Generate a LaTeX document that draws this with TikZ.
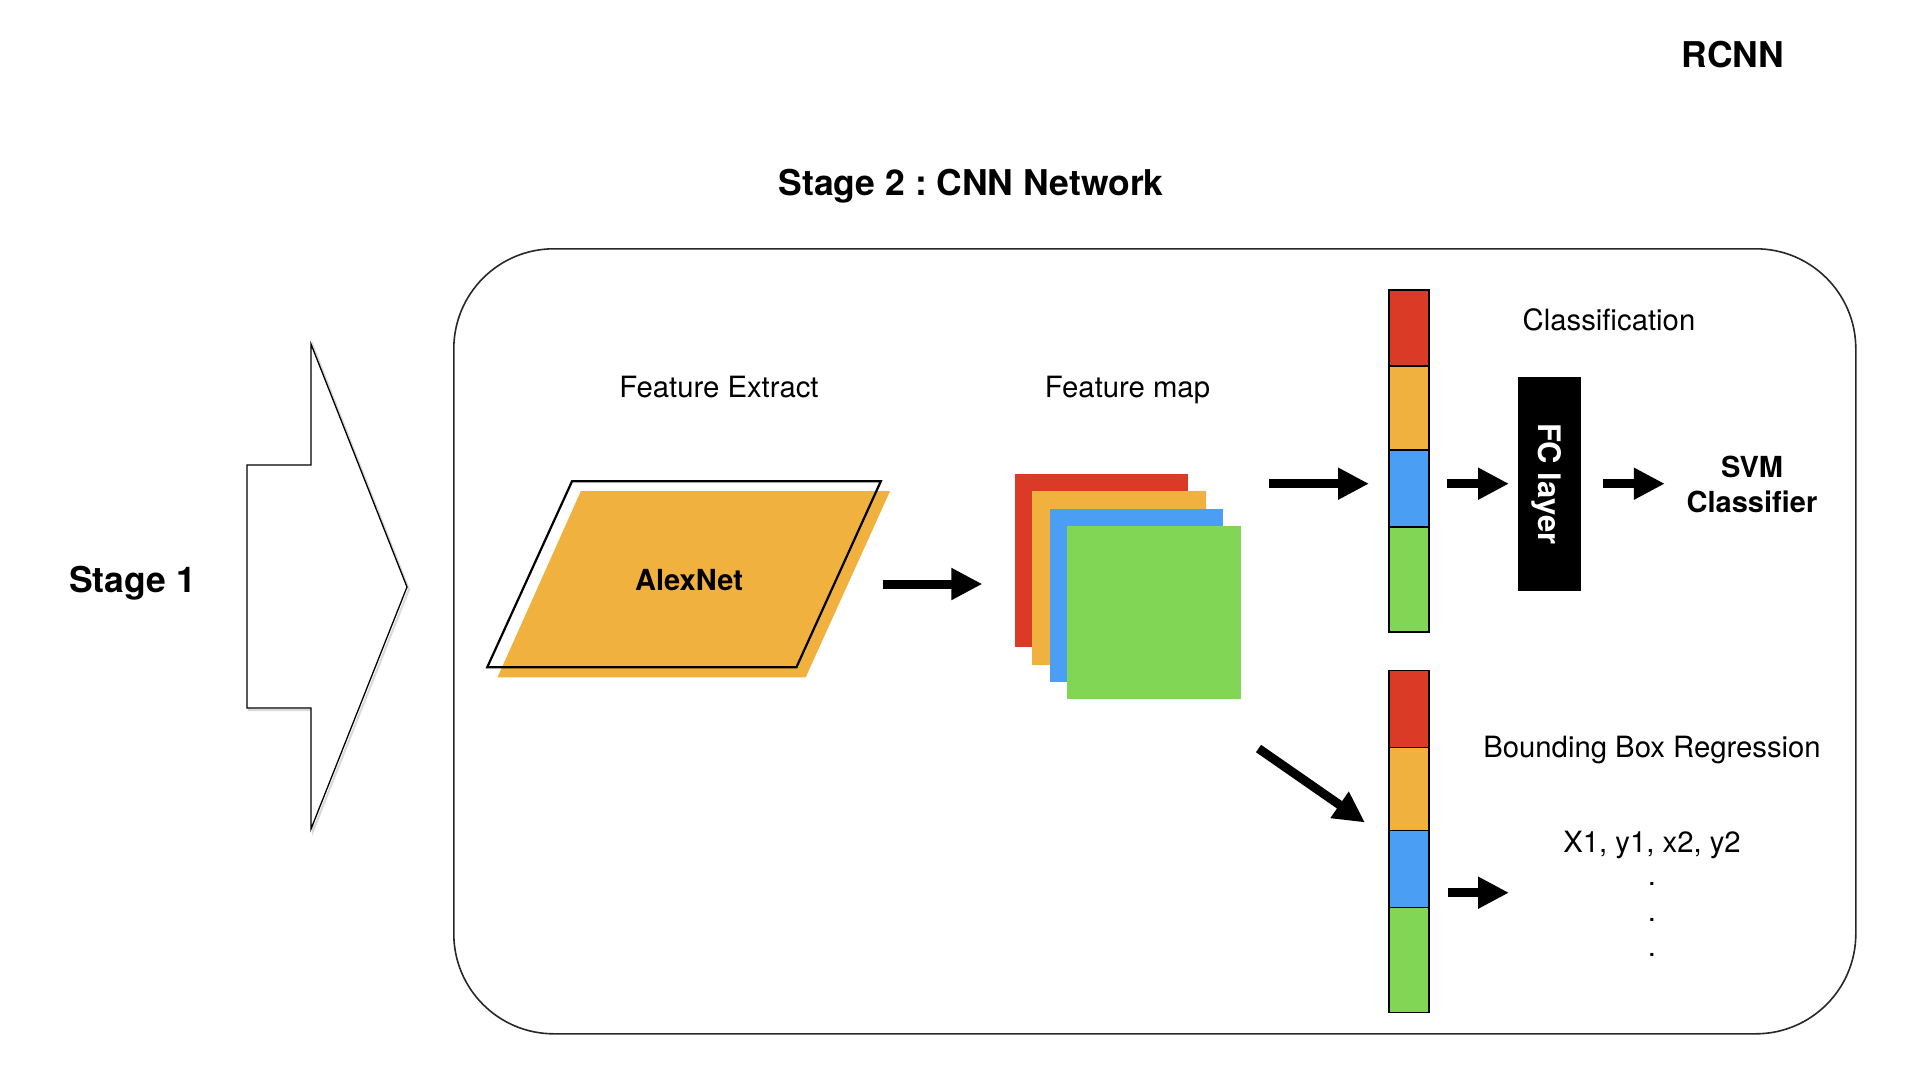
\documentclass[tikz,border=0pt]{standalone}
\usepackage{fontspec}
\setmainfont{TeX Gyre Heros}
\usetikzlibrary{arrows.meta}
\frenchspacing
\definecolor{cred}{RGB}{219,59,38}
\definecolor{corange}{RGB}{241,177,62}
\definecolor{cblue}{RGB}{74,159,245}
\definecolor{cgreen}{RGB}{130,214,85}
\definecolor{cframe}{RGB}{40,40,40}
\tikzset{
  fatarrow/.style={line width=9pt, -{Triangle[length=31pt,width=30pt]}},
  normtext/.style={font=\fontsize{29.3}{35}\selectfont, inner sep=0pt, anchor=base},
  boldtext/.style={font=\fontsize{29}{35.6}\selectfont\bfseries, inner sep=0pt},
  titletext/.style={font=\fontsize{35.5}{42}\selectfont\bfseries, inner sep=0pt, anchor=base},
  sq/.style={draw=none, inner sep=0pt, minimum width=173.5pt, minimum height=173.5pt, anchor=north west},
  seg/.style={draw=black, line width=1.4pt, inner sep=0pt, minimum width=40pt, anchor=north west},
}
\begin{document}
\begin{tikzpicture}[x=1pt,y=-1pt]
\useasboundingbox (0,0) rectangle (1920,1080);
\fill[white] (0,0) rectangle (1920,1080);

% titles
\node[titletext] (rcnn) at (1733,67.8) {RCNN};
\node[titletext] (stage2) at (971,195.2) {\frenchspacing Stage 2 : CNN Network};
\node[titletext] (stage1) at (132.5,592.8) {Stage 1};

% big arrow (stage 1) with light shadow
\draw[gray!30, line width=2pt, line join=miter] (249,467) -- (313,467) -- (313,346) -- (409,589.5) -- (313,831) -- (313,710) -- (249,710) -- cycle;
\draw[black, fill=white, line width=1.3pt, line join=miter] (247,465) -- (311,465) -- (311,344) -- (407,587) -- (311,829) -- (311,708) -- (247,708) -- cycle;
\coordinate (bigtip) at (407,587);

% stage 2 frame
\node[draw=cframe, line width=1.6pt, rounded corners=100pt, inner sep=0pt, anchor=north west,
      minimum width=1402pt, minimum height=785pt] (frame) at (453,248) {};

% AlexNet parallelogram
\fill[corange] (580.9,491) -- (890.1,491) -- (805.7,677.3) -- (497.5,677.3) -- cycle;
\draw[black, line width=2.2pt, line join=miter] (572,481.3) -- (880.8,481.3) -- (796.4,667.3) -- (487.2,667.3) -- cycle;
\node[boldtext] (alexnet) at (689,580.5) {AlexNet};
\node[normtext] (fe) at (719,397.5) {Feature Extract};

% feature maps
\node[sq, fill=cred] (fm1) at (1014.7,473.7) {};
\node[sq, fill=corange] (fm2) at (1032,491) {};
\node[sq, fill=cblue] (fm3) at (1049.3,508.3) {};
\node[sq, fill=cgreen] (fm4) at (1067,525.7) {};
\node[normtext] (fmlabel) at (1127.5,397.5) {Feature map};

% top vector
\node[seg, fill=cred, minimum height=76pt] (t1) at (1388.3,289.3) {};
\node[seg, fill=corange, minimum height=84pt] (t2) at (1388.3,365.3) {};
\node[seg, fill=cblue, minimum height=77pt] (t3) at (1388.3,449.3) {};
\node[seg, fill=cgreen, minimum height=105pt] (t4) at (1388.3,526.3) {};

% bottom vector
\node[seg, fill=cred, minimum height=77pt] (b1) at (1388.3,670) {};
\node[seg, fill=corange, minimum height=83pt] (b2) at (1388.3,747) {};
\node[seg, fill=cblue, minimum height=77pt] (b3) at (1388.3,830) {};
\node[seg, fill=cgreen, minimum height=104.5pt] (b4) at (1388.3,907) {};

% FC layer
\node[fill=black, draw=black, inner sep=0pt, anchor=north west, minimum width=61.8pt, minimum height=213.3pt] (fc) at (1518.3,377) {};
\node[font=\fontsize{31}{37}\selectfont\bfseries, text=white, inner sep=0pt, anchor=base, rotate=-90] (fctext) at (1538,483.7) {FC layer};

% labels right
\node[normtext] (cls) at (1609,330.5) {Classification};
\node[boldtext, align=center] (svm) at (1752,484.5) {SVM\\Classifier};
\node[normtext] (bbr) at (1652,757.2) {Bounding Box Regression};
\node[normtext] (xy) at (1652,852.2) {X1, y1, x2, y2};
\node[normtext] (d1) at (1652,885.5) {.};
\node[normtext] (d2) at (1652,921.2) {.};
\node[normtext] (d3) at (1652,956.2) {.};

% arrows
\coordinate (a1s) at (882.5,584);   \coordinate (a1e) at (982.4,584);
\coordinate (a2s) at (1269.3,483.7); \coordinate (a2e) at (1369,483.7);
\coordinate (a3s) at (1447.3,483.7); \coordinate (a3e) at (1509,483.7);
\coordinate (a4s) at (1603.4,483.7); \coordinate (a4e) at (1664.8,483.7);
\coordinate (a5s) at (1258.5,748.5); \coordinate (a5e) at (1365,822.5);
\coordinate (a6s) at (1447.7,892.7); \coordinate (a6e) at (1509,892.7);
\draw[fatarrow] (a1s) -- (a1e);
\draw[fatarrow] (a2s) -- (a2e);
\draw[fatarrow] (a3s) -- (a3e);
\draw[fatarrow] (a4s) -- (a4e);
\draw[fatarrow] (a5s) -- (a5e);
\draw[fatarrow] (a6s) -- (a6e);
\end{tikzpicture}
\end{document}
